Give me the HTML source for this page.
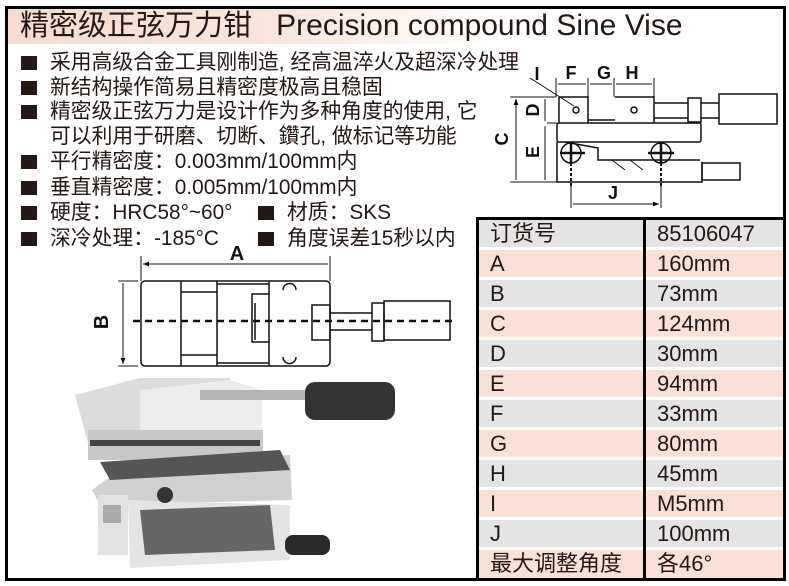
<!DOCTYPE html>
<html><head><meta charset="utf-8"><style>
*{margin:0;padding:0;box-sizing:border-box}
body{width:789px;height:586px;background:#fff;position:relative;overflow:hidden;font-family:"Liberation Sans","Noto Sans CJK SC",sans-serif;color:#231815}
.frame{position:absolute;left:5px;top:6px;width:781px;height:575px;border:3px solid #000}
.hdr{position:absolute;left:8px;top:9px;width:700px;height:35px;background:linear-gradient(90deg,#f6dccd 0%,#f8e6dc 40%,#fff 70%)}
.t{position:absolute;white-space:nowrap}
.b{position:absolute;width:16px;height:14px;background:#231815}
.li{font-size:20.8px;line-height:24px}
.row{position:absolute;left:479px;width:304px;height:27px}
.row span{position:absolute;top:0;font-size:22px;line-height:28px;white-space:nowrap}
.row .a{left:11px}.row .c{left:178px}
.g{background:#e5e4e4}.p{background:#f9e2d5}
.ln{position:absolute;background:#000}
</style></head><body>
<div class="hdr"></div>
<div class="frame"></div>
<div class="t" style="left:20px;top:9px;font-size:29px;line-height:34px">精密级正弦万力钳&nbsp;&nbsp;&nbsp;<span style="font-size:30px">Precision compound Sine Vise</span></div>

<div class="b" style="left:21px;top:56px"></div><div class="t li" style="left:50px;top:51px">采用高级合金工具刚制造, 经高温淬火及超深冷处理</div>
<div class="b" style="left:21px;top:81px"></div><div class="t li" style="left:50px;top:76px">新结构操作简易且精密度极高且稳固</div>
<div class="b" style="left:21px;top:105px"></div><div class="t li" style="left:50px;top:100px">精密级正弦万力是设计作为多种角度的使用, 它</div>
<div class="t li" style="left:50px;top:125px">可以利用于研磨、切断、鑽孔, 做标记等功能</div>
<div class="b" style="left:21px;top:155px"></div><div class="t li" style="left:50px;top:150px">平行精密度：0.003mm/100mm内</div>
<div class="b" style="left:21px;top:181px"></div><div class="t li" style="left:50px;top:176px">垂直精密度：0.005mm/100mm内</div>
<div class="b" style="left:21px;top:206px"></div><div class="t li" style="left:50px;top:201px">硬度：HRC58°~60°</div>
<div class="b" style="left:258px;top:206px"></div><div class="t li" style="left:287px;top:201px">材质：SKS</div>
<div class="b" style="left:21px;top:232px"></div><div class="t li" style="left:50px;top:227px">深冷处理：-185°C</div>
<div class="b" style="left:258px;top:232px"></div><div class="t li" style="left:287px;top:227px">角度误差15秒以内</div>

<svg width="789" height="586" style="position:absolute;left:0;top:0" xmlns="http://www.w3.org/2000/svg">
<defs><marker id="a" viewBox="0 0 10 10" refX="10" refY="5" markerWidth="6" markerHeight="6" orient="auto-start-reverse"><path d="M0,1 L10,5 L0,9z" fill="#000"/></marker></defs>
<g fill="none" stroke="#111" stroke-width="1.5">
<path d="M559,97 H588 V123 M615,97 H654 V123 M559,97 V123 M588,120 H615"/>
<rect x="557" y="123" width="144" height="19" rx="2"/>
<path d="M557,142 V182 H702 V162 M565,142 L598,148 L598,160 L700,160"/>
<rect x="702" y="163" width="38" height="17"/>
<path d="M654,103 H688 M654,118 H688 M701,103 H719 M701,118 H719"/>
<rect x="688" y="98" width="13" height="24"/>
<rect x="719" y="94" width="58" height="30"/>
<circle cx="571" cy="153" r="10"/><circle cx="661" cy="153" r="10"/>
<circle cx="576" cy="110" r="3"/><circle cx="634" cy="110" r="3"/>
<path d="M560,153 H585 M571,143 V163 M648,153 H674 M661,143 V163" stroke-width="2.5"/>
<path d="M571,163 V186 M661,163 V186" stroke-dasharray="3,2" stroke-width="2"/>
<path d="M612,160 L625,170 M630,160 L643,170" stroke-width="1"/>
<path d="M510,97 H556 M547,123 H557 M510,182 H557 M556,78 V97 M588,78 V97 M614,78 V97 M654,78 V97 M571,186 V208 M661,186 V208" stroke-width="1"/>
<path d="M516,99 V180 M545,99 V121 M545,126 V180 M558,84 H586 M590,84 H612 M616,84 H652 M573,204 H659" stroke-width="1" marker-start="url(#a)" marker-end="url(#a)"/>
<path d="M530,78 L574,106" stroke-width="1"/>
<rect x="141" y="281" width="189" height="85" rx="4"/>
<path d="M181,281 V366 M217,281 V366 M269,281 V366 M181,292 H217 M181,355 H217 M217,284 H269 M217,363 H269 M269,294 H252 V342 H269 M255,303 V340"/>
<path d="M283,290 A6,6 0 0 1 296,290 M283,357 A6,6 0 0 0 296,357"/>
<rect x="312" y="305" width="18" height="35"/>
<path d="M330,313 H372 M330,330 H372"/>
<rect x="372" y="303" width="12" height="38"/>
<rect x="384" y="301" width="66" height="39"/>
<path d="M133,321 H457" stroke-width="2.5" stroke-dasharray="7,5"/>
<path d="M141,256 V281 M330,256 V281 M118,281 H138 M118,366 H138" stroke-width="1"/>
<path d="M143,264 H328 M123,283 V364" stroke-width="1" marker-start="url(#a)" marker-end="url(#a)"/>
</g>
<g font-family="Liberation Sans,sans-serif" font-weight="bold" font-size="18" fill="#111" text-anchor="middle">
<text x="537" y="80">I</text><text x="571" y="79">F</text><text x="604" y="79">G</text><text x="632" y="79">H</text>
<text x="613" y="199">J</text>
<text x="237" y="260" font-size="20">A</text>
<text transform="translate(508,139) rotate(-90)">C</text>
<text transform="translate(539,152) rotate(-90)">E</text>
<text transform="translate(539,110) rotate(-90)">D</text>
<text transform="translate(108,322) rotate(-90)" font-size="20">B</text>
</g>
<g>
<polygon points="75,395 140,378 230,378 232,440 90,450" fill="#dcdcdc"/>
<polygon points="140,390 230,380 262,390 262,430 140,440" fill="#ececec"/>
<rect x="88" y="430" width="175" height="30" fill="#c8c8c8"/>
<rect x="90" y="440" width="170" height="6" fill="#444"/>
<polygon points="92,490 130,462 290,455 292,500 100,505" fill="#d0d0d0"/>
<polygon points="100,462 280,450 290,470 110,480" fill="#555"/>
<rect x="98" y="495" width="30" height="60" fill="#e2e2e2"/>
<rect x="103" y="505" width="18" height="18" fill="#aaa"/>
<polygon points="128,500 290,505 290,560 130,568" fill="#e4e4e4"/>
<polygon points="140,510 270,505 275,550 145,555" fill="#666"/>
<circle cx="165" cy="495" r="8" fill="#333"/>
<rect x="200" y="390" width="110" height="10" fill="#b5b5b5"/>
<rect x="305" y="382" width="90" height="38" rx="10" fill="#333"/>
<rect x="285" y="535" width="45" height="20" rx="8" fill="#2a2a2a"/>
</g>
</svg>

<div class="row g" style="top:220px"><span class="a">订货号</span><span class="c">85106047</span></div>
<div class="row p" style="top:250px"><span class="a">A</span><span class="c">160mm</span></div>
<div class="row g" style="top:280px"><span class="a">B</span><span class="c">73mm</span></div>
<div class="row p" style="top:310px"><span class="a">C</span><span class="c">124mm</span></div>
<div class="row g" style="top:340px"><span class="a">D</span><span class="c">30mm</span></div>
<div class="row p" style="top:370px"><span class="a">E</span><span class="c">94mm</span></div>
<div class="row g" style="top:400px"><span class="a">F</span><span class="c">33mm</span></div>
<div class="row p" style="top:430px"><span class="a">G</span><span class="c">80mm</span></div>
<div class="row g" style="top:460px"><span class="a">H</span><span class="c">45mm</span></div>
<div class="row p" style="top:490px"><span class="a">I</span><span class="c">M5mm</span></div>
<div class="row g" style="top:520px"><span class="a">J</span><span class="c">100mm</span></div>
<div class="row p" style="top:550px;height:28px"><span class="a">最大调整角度</span><span class="c">各46°</span></div>
<div class="ln" style="left:476px;top:217px;width:310px;height:3px"></div>
<div class="ln" style="left:476px;top:217px;width:3px;height:363px"></div>
<div class="ln" style="left:643px;top:217px;width:3px;height:363px"></div>
<div class="ln" style="left:783px;top:217px;width:3px;height:363px"></div>
</body></html>
